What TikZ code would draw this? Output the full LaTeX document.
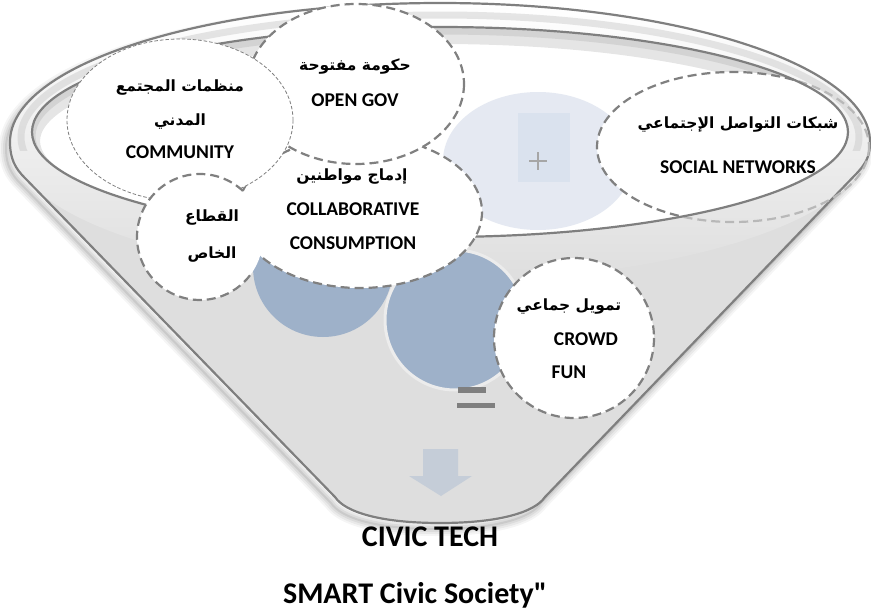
\documentclass[tikz,border=0pt]{standalone}
\usepackage{fontspec}
\setmainfont{Carlito}
\newfontfamily\latfont{Carlito}
\newfontfamily\arabicfont[Script=Arabic]{DejaVu Sans}
\TeXXeTstate=1
\definecolor{bodygray}{HTML}{DEDEDE}
\definecolor{linegray}{HTML}{7F7F7F}
\definecolor{dashgray}{HTML}{808080}
\definecolor{fadegray}{HTML}{B8B8B8}
\definecolor{steel}{RGB}{158,177,201}
\definecolor{paleblue}{HTML}{E5E9F2}
\definecolor{squareblue}{HTML}{DAE2EE}
\definecolor{plusgray}{HTML}{A6A6A6}
\definecolor{arrowblue}{HTML}{C5CDD8}
\tikzset{
  bubble/.style={fill=white, draw=dashgray, line width=2.2pt, dash pattern=on 9pt off 5pt},
  thinbubble/.style={fill=white, draw=dashgray, line width=0.8pt, dash pattern=on 3.5pt off 2pt},
  lat/.style={font=\latfont\bfseries\fontsize{19.5}{20}\selectfont, inner sep=0pt, anchor=base},
  ar/.style={font=\arabicfont\bfseries\fontsize{15.5}{17}\selectfont, inner sep=0pt},
  big/.style={font=\latfont\bfseries\fontsize{30}{31}\selectfont, inner sep=0pt, anchor=base},
}
\def\bodypath{(335,497) -- (22,175) .. controls (12,164) and (10,153) .. (10,142)
  arc[start angle=180, end angle=360, x radius=430, y radius=139]
  .. controls (870,153) and (868,161) .. (858,172) -- (545,497)
  .. controls (535,512) and (500,523) .. (440,523)
  .. controls (380,523) and (345,512) .. (335,497) -- cycle}
\begin{document}
\begin{tikzpicture}[x=1pt,y=-1pt]
\useasboundingbox (0,0) rectangle (871,616);
% soft shadow
\foreach \w/\o in {14/0.04,10/0.05,6/0.06,2/0.08}{
  \draw[black, opacity=\o, line width=\w pt, line join=round, shift={(-4,6)}] \bodypath;
}
% funnel body
\fill[bodygray] \bodypath;
% rim band
\shade[even odd rule, top color=white, bottom color=bodygray]
  (440,142) ellipse [x radius=430, y radius=139] (440,132) ellipse [x radius=408, y radius=105];
\begin{scope}
  \clip (0,0) rectangle (871,150);
  \draw[black!22, line width=7pt, opacity=0.45] (440,137) ellipse [x radius=419, y radius=122];
\end{scope}
\draw[linegray, line width=2.2pt, line join=round] \bodypath;
% faint social ellipse (seen through rim)
\draw[fadegray, line width=2.2pt, dash pattern=on 9pt off 5pt] (733,147) ellipse [x radius=136, y radius=75];
% inner opening
\fill[white] (440,132) ellipse [x radius=408, y radius=105];
\begin{scope}
  \clip (440,132) ellipse [x radius=408, y radius=105];
  \draw[black, opacity=0.10, line width=16pt] (440,141) ellipse [x radius=408, y radius=105];
  \draw[black, opacity=0.08, line width=7pt] (440,136) ellipse [x radius=408, y radius=105];
  % pale circle with plus
  \fill[paleblue] (538,161) ellipse [x radius=95, y radius=69];
  \fill[squareblue] (518,113) rectangle (570,182);
  \draw[plusgray, line width=1.2pt] (529,161) -- (547,161) (538,152) -- (538,170);
  % social networks bubble (inside part)
  \draw[bubble] (733,147) ellipse [x radius=136, y radius=75];
\end{scope}
\draw[linegray, line width=2.2pt] (440,132) ellipse [x radius=408, y radius=105];
% blue circles
\fill[steel] (323,267) circle (70);
\filldraw[fill=steel, draw=white!85!gray, line width=3pt] (455,320) circle (70);
% equal sign
\fill[linegray] (458,387) rectangle (486,393);
\fill[linegray] (457,403) rectangle (495,408);
% down arrow
\fill[arrowblue] (423,449) -- (458,449) -- (458,476) -- (472,476) -- (441,496) -- (409,476) -- (423,476) -- cycle;
% bubbles
\draw[bubble] (360,212) ellipse [x radius=122, y radius=76];
\draw[bubble] (356,84) ellipse [x radius=108, y radius=80];
\draw[thinbubble] (180,120) ellipse [x radius=113, y radius=81];
\fill[white] (200,237) circle (63);
\draw[dashgray, line width=2.2pt, dash pattern=on 9pt off 5pt] (200,237) ++(-47:63) arc[start angle=-47, end angle=-323, radius=63];
\draw[bubble] (574,338) circle (80);
% texts
\node[ar] (com1) at (180,88) {\beginR منظمات المجتمع\endR};
\node[ar] (com2) at (180,122) {\beginR المدني\endR};
\node[lat] (com3) at (180,158.5) {COMMUNITY};
\node[ar] (gov1) at (355,67) {\beginR حكومة مفتوحة\endR};
\node[lat] (gov2) at (355,106.5) {OPEN GOV};
\node[ar] (col1) at (352,177) {\beginR إدماج مواطنين\endR};
\node[lat] (col2) at (353,215.5) {COLLABORATIVE};
\node[lat] (col3) at (353,249.5) {CONSUMPTION};
\node[ar] (pri1) at (212,218) {\beginR القطاع\endR};
\node[ar] (pri2) at (212,255) {\beginR الخاص\endR};
\node[ar] (soc1) at (738,125) {\beginR شبكات التواصل الإجتماعي\endR};
\node[lat] (soc2) at (738,173.5) {SOCIAL NETWORKS};
\node[ar] (cro1) at (569,307) {\beginR تمويل جماعي\endR};
\node[lat] (cro2) at (586,345.5) {CROWD};
\node[lat] (cro3) at (569,378.5) {FUN};
\node[big] (civic) at (430,546) {CIVIC TECH};
\node[big] (smart) at (415,603) {SMART Civic Society"};
\end{tikzpicture}
\end{document}
